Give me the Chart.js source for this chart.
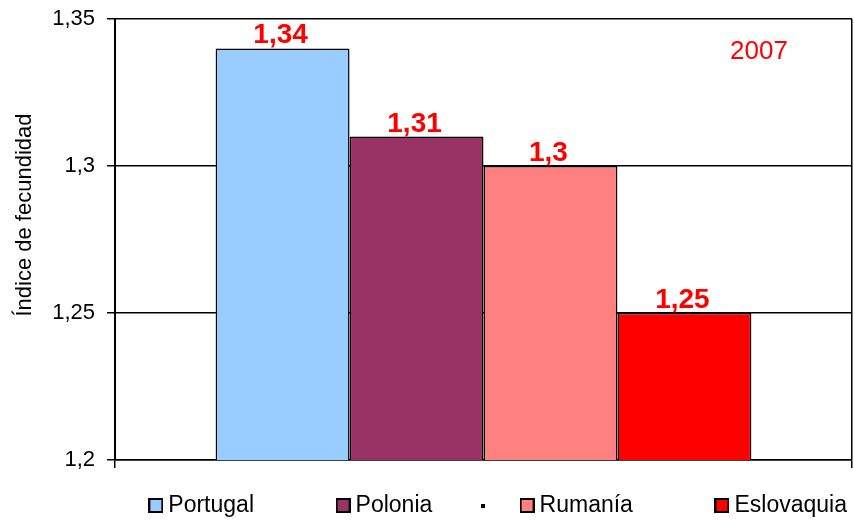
<!DOCTYPE html>
<html>
<head>
<meta charset="utf-8">
<script src="https://cdn.jsdelivr.net/npm/chart.js@4.4.0/dist/chart.umd.min.js"></script>
<style>
  html, body { margin: 0; padding: 0; background: #fff; }
</style>
</head>
<body>
<canvas id="chart" width="854" height="520"></canvas>
<script>
// datos del gráfico
const paises = ['Portugal', 'Polonia', '', 'Rumanía', 'Eslovaquia'];
const indices = [1.34, 1.31, null, 1.3, 1.25];
const yTicks = [1.2, 1.25, 1.3, 1.35];
const anio = '2007';
const tituloY = 'Índice de fecundidad';

// estilo
const colores = ['#99CCFF', '#993366', '#000000', '#FF8080', '#FF0000'];
const espaciosLeyenda = [13, 7, 4, 13, 0]; // separación entre entradas de la leyenda
const fuente = '"Liberation Sans", Arial, sans-serif';

Chart.defaults.font.family = fuente;
Chart.defaults.color = '#000';

// cuadrito de la leyenda
function cajaLeyenda(color, size, borde) {
  const c = document.createElement('canvas');
  c.width = size; c.height = size;
  const g = c.getContext('2d');
  g.fillStyle = '#000';
  g.fillRect(0, 0, size, size);
  if (borde) {
    g.fillStyle = color;
    g.fillRect(borde, borde, size - 2 * borde, size - 2 * borde);
  }
  return c;
}

// etiquetas de valor y año
const etiquetas = {
  id: 'etiquetas',
  afterDatasetsDraw(chart) {
    const ctx = chart.ctx;
    ctx.save();
    ctx.font = 'bold 28px ' + fuente;
    ctx.fillStyle = '#FF0000';
    ctx.textAlign = 'center';
    ctx.textBaseline = 'alphabetic';
    chart.data.datasets.forEach((ds, i) => {
      const meta = chart.getDatasetMeta(i);
      ds.data.forEach((v, j) => {
        if (v == null) return;
        const bar = meta.data[j];
        ctx.fillText(String(v).replace('.', ','), bar.x - 2, bar.y - 5);
      });
    });
    const a = chart.chartArea;
    ctx.font = '26px ' + fuente;
    ctx.textBaseline = 'middle';
    ctx.fillText(anio, a.right - 93, a.top + 33);
    ctx.restore();
  }
};

const datasets = paises.map((p, i) => ({
  label: p,
  data: [indices[i]],
  backgroundColor: colores[i],
  borderColor: '#000',
  borderWidth: 1.5,
  barPercentage: 1,
  categoryPercentage: 0.727,
  skipNull: true
}));

new Chart(document.getElementById('chart'), {
  type: 'bar',
  data: { labels: [''], datasets: datasets },
  plugins: [etiquetas],
  options: {
    responsive: false,
    animation: false,
    layout: { padding: { top: 19, right: 2, left: 0, bottom: 0 } },
    plugins: {
      tooltip: { enabled: false },
      legend: {
        position: 'bottom',
        align: 'end',
        maxHeight: 31,
        labels: {
          usePointStyle: true,
          pointStyleWidth: 2,
          padding: 5,
          color: '#000',
          font: { size: 23 },
          generateLabels(chart) {
            return chart.data.datasets.map((ds, i) => ({
              text: ds.label + ' '.repeat(espaciosLeyenda[i]),
              pointStyle: ds.label === '' ? cajaLeyenda('#000', 4, 0) : cajaLeyenda(colores[i], 15, 2),
              fillStyle: colores[i],
              strokeStyle: '#000',
              lineWidth: 0,
              hidden: false,
              datasetIndex: i,
              fontColor: '#000'
            }));
          }
        }
      }
    },
    scales: {
      x: {
        offset: true,
        ticks: { display: false },
        grid: { offset: true, color: '#000', lineWidth: 1.5, tickLength: 8 },
        border: { color: '#000', width: 1.5 },
        afterFit: s => { s.height = 29; }
      },
      y: {
        min: 1.2,
        max: 1.35,
        afterBuildTicks: s => { s.ticks = yTicks.map(v => ({ value: v })); },
        ticks: {
          padding: 12,
          color: '#000',
          font: { size: 22 },
          callback: v => String(Math.round(v * 100) / 100).replace('.', ',')
        },
        grid: { color: '#000', lineWidth: 1.5, tickLength: 8 },
        border: { color: '#000', width: 2 },
        title: {
          display: true,
          text: '        ' + tituloY,
          color: '#000',
          font: { size: 22 },
          padding: { top: 12, bottom: 0 }
        },
        afterFit: s => { s.width = 115; s.paddingTop = 0; s.paddingBottom = 0; }
      }
    }
  }
});
</script>
</body>
</html>
